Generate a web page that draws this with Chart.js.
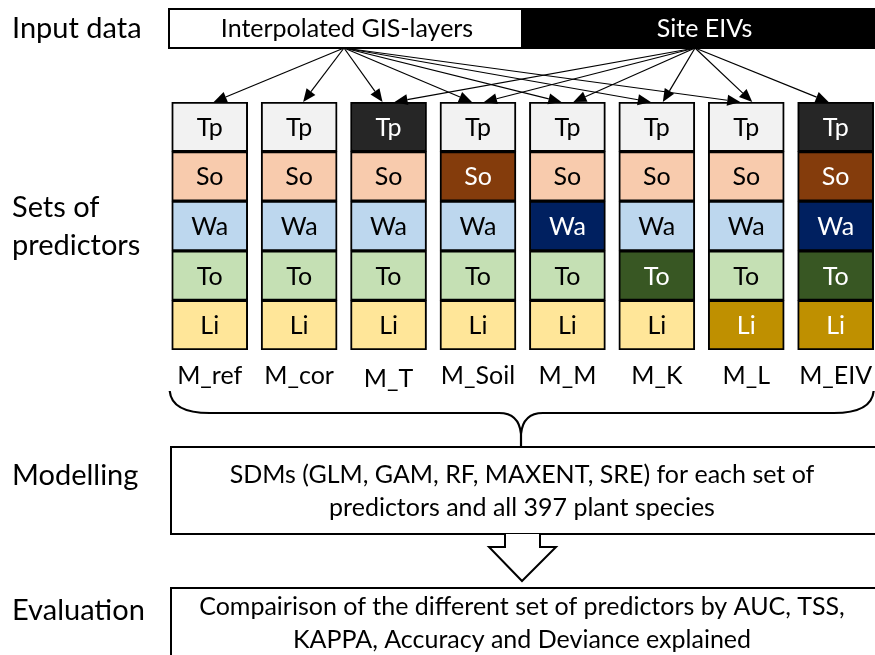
<!DOCTYPE html>
<html>
<head>
<meta charset="utf-8">
<script src="https://cdn.jsdelivr.net/npm/chart.js@4"></script>
<style>
  html, body { margin: 0; padding: 0; background: #fff; }
  #wrap { width: 875px; height: 655px; position: relative; }
</style>
</head>
<body>
<div id="wrap"><canvas id="chart" width="875" height="655"></canvas></div>
<script>
// Predictor sets (one column each)
const models = ['M_ref', 'M_cor', 'M_T', 'M_Soil', 'M_M', 'M_K', 'M_L', 'M_EIV'];
// Predictor groups, bottom to top of each column
const layers = ['Li', 'To', 'Wa', 'So', 'Tp'];
const layerSize = [1, 1, 1, 1, 1];
const lightColors = ['#ffe699', '#c5e0b4', '#bdd7ee', '#f8cbad', '#f2f2f2'];
const darkColors = ['#bf9000', '#385723', '#002060', '#843c0c', '#262626'];

// 1 = this group is taken from site EIVs in that model (dark cell)
const eivLi = [0, 0, 0, 0, 0, 0, 1, 1];
const eivTo = [0, 0, 0, 0, 0, 1, 0, 1];
const eivWa = [0, 0, 0, 0, 1, 0, 0, 1];
const eivSo = [0, 0, 0, 1, 0, 0, 0, 1];
const eivTp = [0, 0, 1, 0, 0, 0, 0, 1];
const eivFlags = [eivLi, eivTo, eivWa, eivSo, eivTp];

// Which input source feeds each model
const fromGIS = [1, 1, 1, 1, 1, 1, 1, 0];
const fromEIV = [0, 0, 1, 1, 1, 1, 1, 1];

const inputLabels = ['Interpolated GIS-layers', 'Site EIVs'];
const rowLabels = ['Input data', 'Sets of|predictors', 'Modelling', 'Evaluation'];
const modellingText = ['SDMs (GLM, GAM, RF, MAXENT, SRE) for each set of', 'predictors and all 397 plant species'];
const evaluationText = ['Compairison of the different set of predictors by AUC, TSS,', 'KAPPA, Accuracy and Deviance explained'];

const FONT = 'Lato, "Open Sans", sans-serif';

const datasets = layers.map((name, li) => ({
    label: name,
    data: models.map((m, i) => ({ x: i, y: layerSize[li] })),
    backgroundColor: models.map((m, i) => eivFlags[li][i] ? darkColors[li] : lightColors[li]),
    borderColor: '#000',
    borderWidth: 2,
    borderSkipped: false,
    barThickness: 76,
    stack: 'sets'
}));

function arrow(ctx, x1, y1, x2, y2) {
    const ang = Math.atan2(y2 - y1, x2 - x1);
    const len = 13, half = 5.5;
    const bx = x2 - len * Math.cos(ang), by = y2 - len * Math.sin(ang);
    ctx.beginPath();
    ctx.moveTo(x1, y1);
    ctx.lineTo(bx, by);
    ctx.stroke();
    ctx.beginPath();
    ctx.moveTo(x2, y2);
    ctx.lineTo(bx + half * Math.sin(ang), by - half * Math.cos(ang));
    ctx.lineTo(bx - half * Math.sin(ang), by + half * Math.cos(ang));
    ctx.closePath();
    ctx.fill();
}

const diagramPlugin = {
    id: 'diagram',
    afterDatasetsDraw(chart) {
        const ctx = chart.ctx;
        const xs = chart.scales.x;
        const area = chart.chartArea;
        ctx.save();
        ctx.textAlign = 'center';
        ctx.textBaseline = 'middle';

        // cell labels
        ctx.font = '25px ' + FONT;
        chart.data.datasets.forEach((ds, li) => {
            chart.getDatasetMeta(li).data.forEach((bar, i) => {
                ctx.fillStyle = eivFlags[li][i] ? '#fff' : '#000';
                ctx.fillText(ds.label, bar.x, (bar.y + bar.base) / 2 + 1);
            });
        });

        // model names under the columns
        ctx.fillStyle = '#000';
        models.forEach((m, i) => {
            ctx.fillText(m, xs.getPixelForValue(i), m === 'M_T' ? 379 : 376);
        });

        // row labels on the left
        ctx.textAlign = 'left';
        ctx.font = '29px ' + FONT;
        ctx.fillText(rowLabels[0], 12, 29);
        const sp = rowLabels[1].split('|');
        ctx.fillText(sp[0], 12, 208);
        ctx.fillText(sp[1], 12, 246);
        ctx.fillText(rowLabels[2], 12, 476);
        ctx.fillText(rowLabels[3], 12, 611);

        // input data box
        const boxL = 169, boxR = 876, split = 521, boxT = 9, boxB = 48;
        ctx.fillStyle = '#000';
        ctx.fillRect(split, boxT, boxR - split, boxB - boxT);
        ctx.lineWidth = 2;
        ctx.strokeStyle = '#000';
        ctx.strokeRect(boxL, boxT, boxR - boxL, boxB - boxT);
        ctx.textAlign = 'center';
        ctx.font = '25px ' + FONT;
        ctx.fillText(inputLabels[0], (boxL + split) / 2 + 2, 29);
        ctx.fillStyle = '#fff';
        ctx.fillText(inputLabels[1], (split + boxR) / 2 + 6, 29);

        // arrows from sources to predictor sets
        const gisX = 344, eivX = 695;
        ctx.fillStyle = '#000';
        ctx.lineWidth = 1.2;
        models.forEach((m, i) => {
            const cx = xs.getPixelForValue(i);
            const both = fromGIS[i] && fromEIV[i];
            if (fromGIS[i]) arrow(ctx, gisX, boxB, both ? cx - 6 : cx + 4, area.top);
            if (fromEIV[i]) arrow(ctx, eivX, boxB, both ? cx + 6 : cx - 7, area.top);
        });

        // curly brace
        const bL = xs.getPixelForValue(0) - 40, bR = xs.getPixelForValue(models.length - 1) + 38;
        const mid = 521, yTop = 391, yMid = 413, yTip = 434;
        ctx.lineWidth = 2.2;
        ctx.beginPath();
        ctx.moveTo(bL, yTop);
        ctx.quadraticCurveTo(bL + 2, yMid, bL + 40, yMid);
        ctx.lineTo(mid - 22, yMid);
        ctx.quadraticCurveTo(mid - 2, yMid, mid, yTip);
        ctx.quadraticCurveTo(mid + 2, yMid, mid + 22, yMid);
        ctx.lineTo(bR - 40, yMid);
        ctx.quadraticCurveTo(bR - 2, yMid, bR, yTop);
        ctx.stroke();
        ctx.beginPath();
        ctx.moveTo(mid, yTip);
        ctx.lineTo(mid, 447);
        ctx.stroke();

        // modelling box
        ctx.lineWidth = 2;
        ctx.strokeRect(171, 447, 706, 87);
        ctx.font = '25px ' + FONT;
        ctx.fillStyle = '#000';
        ctx.fillText(modellingText[0], 522, 475);
        ctx.fillText(modellingText[1], 522, 508);

        // hollow block arrow
        ctx.beginPath();
        ctx.moveTo(505, 534);
        ctx.lineTo(505, 547);
        ctx.lineTo(489, 547);
        ctx.lineTo(522, 581);
        ctx.lineTo(556, 547);
        ctx.lineTo(540, 547);
        ctx.lineTo(540, 534);
        ctx.fillStyle = '#fff';
        ctx.fill();
        ctx.stroke();

        // evaluation box
        ctx.strokeRect(171, 588, 706, 80);
        ctx.fillStyle = '#000';
        ctx.fillText(evaluationText[0], 522, 607);
        ctx.fillText(evaluationText[1], 522, 640);

        ctx.restore();
    }
};

new Chart(document.getElementById('chart'), {
    type: 'bar',
    data: { datasets },
    options: {
        responsive: false,
        animation: false,
        events: [],
        layout: { padding: { top: 102, bottom: 305, left: 165, right: 0 } },
        plugins: { legend: { display: false }, tooltip: { enabled: false } },
        scales: {
            x: { type: 'linear', min: -0.5, max: 7.44, offset: false, stacked: true, display: false },
            y: { min: 0, max: 5, stacked: true, display: false }
        }
    },
    plugins: [diagramPlugin]
});
</script>
</body>
</html>
